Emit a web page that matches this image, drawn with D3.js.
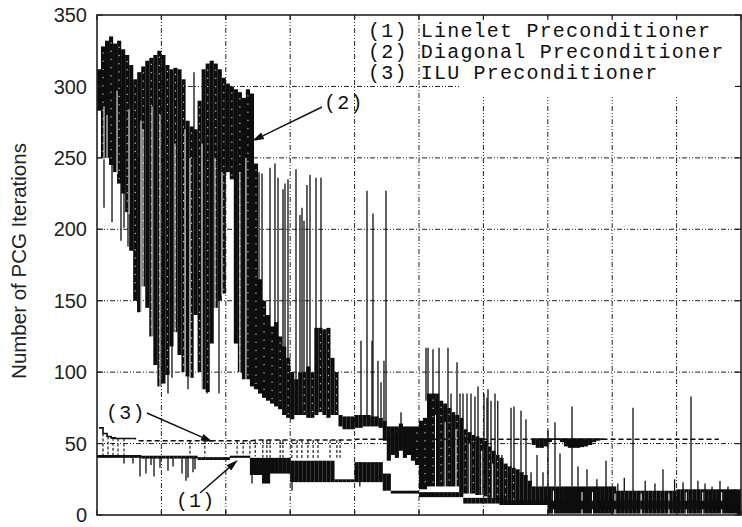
<!DOCTYPE html>
<html><head><meta charset="utf-8">
<script src="https://cdn.jsdelivr.net/npm/d3@7"></script>
<style>body{margin:0;background:#fff}svg{display:block}</style>
</head><body>
<svg id="c" width="742" height="527"></svg>
<script>
// ---------- data ----------
const yTicks = [0, 50, 100, 150, 200, 250, 300, 350];
const xTicks = [0, 16, 32, 48, 64, 80, 96, 112, 128, 144, 160];
const legendLabels = ["(1) Linelet Preconditioner", "(2) Diagonal Preconditioner", "(3) ILU Preconditioner"];
const yTitle = "Number of PCG Iterations";

// (2) Diagonal preconditioner: envelope per bin (160 bins)
const diagHi = [
312,328,332,335,330,332,326,322,315,305,
310,314,318,320,322,325,322,315,312,313,
312,305,276,272,270,290,312,316,318,316,
312,306,302,300,298,296,292,298,295,246,
165,150,140,132,135,125,118,110,100,95,
100,100,104,100,131,131,130,131,110,100,
70,69,69,69,70,70,70,70,69,69,
68,66,62,62,62,64,62,62,62,62,
66,68,85,85,85,80,78,75,72,70,
68,60,58,56,55,54,52,48,45,42,
40,36,34,33,32,30,28,24,20,20,
20,20,20,20,20,20,20,20,20,20,
20,20,20,20,20,20,20,20,20,17,
17,17,17,17,17,17,17,17,17,17,
17,17,17,17,18,18,18,18,18,18,
18,18,18,18,18,18,18,18,18,18];
const diagLo = [
283,250,250,245,240,232,225,212,185,150,
142,160,145,125,105,90,92,98,118,128,
112,100,97,96,140,100,88,86,120,145,
150,155,240,235,120,100,95,95,90,88,
85,82,80,78,76,74,70,68,67,70,
70,70,68,68,70,72,70,68,70,70,
62,60,60,60,61,61,62,62,62,62,
61,52,38,42,40,45,40,42,38,35,
18,18,20,20,20,20,20,20,20,20,
16,15,15,15,14,14,13,12,12,10,
7,7,7,7,7,7,7,7,7,7,
7,7,1,1,1,1,1,1,1,1,
1,1,1,1,1,1,1,1,1,1,
1,1,1,1,1,1,1,1,1,1,
1,1,1,1,1,1,1,1,1,1,
1,1,1,1,1,1,1,1,1,0];
// isolated excursions of series (2): position (bins), low, high
const diagSpikePos = [1.74,3.73,5.96,6.71,7.70,10.19,17.64,18.63,22.61,24.1,27.33,30.31,
 40.25,41.0,42.98,44.22,44.97,46.21,46.71,47.45,49.44,50.43,50.93,51.43,52.17,52.92,54.41,55.65,
 65.59,67.08,68.32,68.57,69.81,70.56,71.30,71.80,75.53,
 81.74,82.24,83.48,84.97,87.20,87.95,89.44,90.19,90.93,91.93,92.92,93.91,94.66,96.15,96.89,97.14,97.89,98.88,
 99.57,100.6,102.86,103.60,105.34,106.58,107.83,109.32,110.81,112.05,113.79,115.03,118.01,119.50,121.74,
 124.2,126.46,129.4,131.0,133.17,136.2,138.63,140.62,143.5,145.6,147.58,149.3,151.06,152.80,154.78,156.77,158.51];
const diagSpikeLo = [215,205,192,201,188,142,85,96,88,250,85,85,
 150,140,120,120,120,110,110,100,90,100,100,100,100,100,130,130,
 68,68,68,68,68,68,66,66,62,
 80,80,80,80,75,72,70,68,60,58,56,55,54,52,48,48,45,42,
 40,36,33,32,30,24,20,20,20,20,20,20,20,20,20,
 18,18,16,16,16,16,16,16,16,16,16,16,16,16,16,16,16];
const diagSpikeHi = [300,300,300,300,300,250,200,200,200,310,200,250,
 240,239,243,246,236,228,232,235,242,210,215,206,231,238,236,236,
 122,227,122,211,108,93,108,227,72,
 117,117,116,117,117,85,107,85,85,85,85,83,90,85,82,88,80,85,
 80,42,75,76,73,67,30,42,30,60,65,43,76,34,32,
 25,38,22,26,75,24,22,32,25,23,83,24,22,20,24,20,18];
// thin white gaps inside the dense bands of series (2): position (bins), top value
const diagGapPos = [1.74,2.49,4.97,7.95,10.93,11.43,13.67,15.65,19.38,21.86,23.11,26.09,29.32,31.06,35.5,37.0,
 84.1,86.5,89.2,92.5,95.6,98.3,113.4,120.5,123.1,128.7,135.2,142.1,146.4,150.5,155.2];
const diagGapTop = [286,280,297,284,276,270,286,280,260,270,250,260,250,240,240,250,
 70,65,60,50,45,36,17,16,16,15,15,15,16,16,16];

// (1) Linelet preconditioner: band per bin
const linHi = [
42,42,42,42,42,42,42,42,42,42,
42,41.5,41.5,41.5,41.5,41.5,41.5,41.5,41.5,41.5,
41.5,41.5,41.5,41.5,41.5,40.5,40.5,40.5,40.5,40.5,
40.5,40.5,40.5,41.5,41.5,41.5,41.5,41.5,40,40,
40,40,40,40,40,40,40,40,38,38,
38,38,38,38,38,38,38,38,38,25,
25,25,25,25,37,37,37,37,37,37,
37,29,29,17,17,17,17,17,17,17,
16,16,16,16,16,16,16,16,16,16,
16,12,12,12,12,12,12,12,12,12,
12,10,10,10,10,10,10,10,10,10,
10,10,10,10,10,10,10,10,10,10,
10,10,10,10,10,10,10,10,10,10,
10,10,10,10,10,10,10,10,10,10,
10,10,10,10,10,10,10,10,10,10,
10,10,10,10,10,10,10,10,10,10];
const linLo = [
40,40,40,40,40,40,40,40,40,40,
40,39.5,39.5,39.5,39.5,39.5,39.5,39.5,39.5,39.5,
39.5,39.5,39.5,39.5,39.5,38.5,38.5,38.5,38.5,38.5,
38.5,38.5,38.5,40,40,40,40,40,28,28,
28,22,22,29,29,29,29,29,23,23,
23,23,23,23,23,23,23,23,23,23,
23,23,23,23,23,23,23,23,23,23,
23,17,17,15,15,15,15,15,15,15,
12.5,12.5,12.5,12.5,12.5,12.5,12.5,12.5,12.5,12.5,
12.5,8,8,8,8,8,8,8,8,8,
8,7,7,7,7,7,7,7,7,7,
7,7,4,4,4,4,4,4,4,4,
4,4,4,4,4,4,4,4,4,4,
4,4,4,4,4,4,4,4,4,4,
4,4,4,4,4,4,4,4,4,4,
4,4,4,4,4,4,4,4,4,4];
const linSpikePos = [6.71,8.94,10.68,12.17,13.42,14.16,15.65,17.64,18.88,21.12,22.11,22.61,23.85,24.35,38.51,48.45,65.3];
const linSpikeLo  = [36,36,27,29,35,27,33,31,34,29,24,26,30,32,22,17,20];
const linSpikeHi  = [40,40,40,40,40,40,40,40,40,40,40,40,40,40,40,38,37];

// (3) ILU preconditioner: value per bin (bins 0..154)
const iluVals = [
61,57,55,54,53.5,53.5,53.5,53.5,53.5,53.5,
52,52,52,52,52,52,52,52,52,52,
52,52,52,52,52,52,52,52,52,52,
52,52,52,52,52,52,52,52,52,52.5,
52.5,52.5,52.5,52.5,52.5,52.5,52.5,52.5,52.5,52.5,
52.5,52.5,52.5,52.5,52.5,52.5,52.5,52.5,52.5,52.5,
52.5,52.5,52.5,52.5,53,53,53,53,53,53,
53,53,53,53,53,53,53,53,53,53,
53,53,53,53,53,53,53,53,53,53,
53,53,53,53,53,53,53,53,53,53,
53,53,53,53,53,53,53,53,53,53,
53,53,53,53,53,53,53,53,53,53,
53,53,53,53,53,53,53,53,53,53,
53,53,53,53,53,53,53,53,53,53,
53,53,53,53,53,53,53,53,53,53,
53,53,53,53,53];
// solid dip band of series (3)
const iluBandBins = [108,109,110,111,112,113,114,115,116,117,118,119,120,121,122,123,124,125];
const iluBandLo   = [49,47,47,48,51,52.5,52.5,51,48,47,47,47,47.5,48,49,51,52,52.5];
// short dashed drops of series (3)
const iluDipPos = [1.49,2.73,3.98,5.22,6.71,23.1,26.8,34.8,36.3,38.0,39.3,41.2,42.2,43.0,45.5,46.2,48.4,49.7,50.9,52.4,53.7,54.9,57.9,59.6,60.4];
const iluDipLo  = [41,41,41,41,41,41,41,41,41,41,41,40,40,40,40,40,39,39,39,39,39,39,40,40,40];

// annotations: label position and arrow (bins, values)
const noteLabels = ["(2)", "(3)", "(1)"];
const noteTextX = [56.4, 2.24, 19.6];
const noteTextY = [284.2, 67.2, 5.6];
const noteArrowFrom = [[55.9, 285.6], [12.4, 71.4], [25.6, 15.4]];
const noteArrowTo   = [[38.5, 261.8], [28.8, 51.1], [35.0, 38.5]];

// ---------- drawing ----------
const svg = d3.select("#c");
const L = 97, R = 741, T = 15, B = 515;
const x = d3.scaleLinear().domain([0, 160]).range([L, R]);
const y = d3.scaleLinear().domain([0, 350]).range([B, T]);
const ink = "#0d0d0d";
const gridDash = "5,2,1,2,1,2";

svg.append("rect").attr("width", 742).attr("height", 527).attr("fill", "#fff");
svg.append("defs").append("clipPath").attr("id", "pa")
  .append("rect").attr("x", L).attr("y", T).attr("width", R - L).attr("height", B - T);

// grid
const grid = svg.append("g").attr("stroke", "#222").attr("stroke-width", 1).attr("stroke-dasharray", gridDash);
grid.selectAll("line.h").data(yTicks.filter(v => v > 0 && v < 350)).join("line")
  .attr("x1", L).attr("x2", R).attr("y1", d => y(d)).attr("y2", d => y(d));
grid.selectAll("line.v").data(xTicks.filter(v => v > 0 && v < 160)).join("line")
  .attr("x1", d => x(d)).attr("x2", d => x(d)).attr("y1", T).attr("y2", B);
// key area (blank)
svg.append("rect").attr("x", 460).attr("y", T + 2).attr("width", R - 4 - 460).attr("height", 80).attr("fill", "#fff");

const plot = svg.append("g").attr("clip-path", "url(#pa)");
const bins = d3.range(160);
const bw = x(1) - x(0);

// series (2)
plot.append("g").attr("fill", ink).selectAll("rect").data(bins).join("rect")
  .attr("x", i => x(i) - 0.05).attr("width", bw + 0.1)
  .attr("y", i => y(diagHi[i])).attr("height", i => Math.max(1.2, y(diagLo[i]) - y(diagHi[i])));
plot.append("g").attr("stroke", ink).attr("stroke-width", 1.3).selectAll("line").data(diagSpikePos).join("line")
  .attr("x1", d => x(d)).attr("x2", d => x(d))
  .attr("y1", (d, k) => y(diagSpikeLo[k])).attr("y2", (d, k) => y(diagSpikeHi[k]));
// thin white gaps
plot.append("g").attr("stroke", "#fff").attr("stroke-width", 1).selectAll("line").data(diagGapPos).join("line")
  .attr("x1", d => x(d)).attr("x2", d => x(d))
  .attr("y1", (d, k) => y(diagGapTop[k])).attr("y2", d => y(diagLo[Math.floor(d)]) + 2);
// sparse dotted texture of the dashed line
plot.append("g").attr("stroke", "#fff").attr("stroke-width", 0.9).attr("stroke-dasharray", "1.2,7")
  .selectAll("line").data(bins.filter(i => i % 2 === 1 && diagHi[i] - diagLo[i] > 25)).join("line")
  .attr("x1", i => x(i + 0.5)).attr("x2", i => x(i + 0.5))
  .attr("y1", i => y(diagHi[i]) + 6).attr("y2", i => y(diagLo[i]) - 3);

// series (1)
plot.append("g").attr("fill", ink).selectAll("rect").data(bins).join("rect")
  .attr("x", i => x(i) - 0.05).attr("width", bw + 0.1)
  .attr("y", i => y(linHi[i])).attr("height", i => Math.max(1.5, y(linLo[i]) - y(linHi[i])));
plot.append("g").attr("stroke", ink).attr("stroke-width", 1.3).selectAll("line").data(linSpikePos).join("line")
  .attr("x1", d => x(d)).attr("x2", d => x(d))
  .attr("y1", (d, k) => y(linSpikeLo[k])).attr("y2", (d, k) => y(linSpikeHi[k]));

// series (3)
const iluLine = d3.line().x(d => x(d[0] + 0.5)).y(d => y(d[1])).curve(d3.curveStepAfter);
const iluPts = iluVals.map((v, i) => [i, v]);
plot.append("path").attr("d", iluLine(iluPts.slice(0, 9))).attr("fill", "none").attr("stroke", ink).attr("stroke-width", 1.6);
plot.append("path").attr("d", d3.line().x(d => x(d[0] + 0.5)).y(d => y(d[1]))(iluPts.slice(8)))
  .attr("fill", "none").attr("stroke", ink).attr("stroke-width", 1.5).attr("stroke-dasharray", "5,3");
plot.append("g").attr("stroke", ink).attr("stroke-width", 1.1).attr("stroke-dasharray", "3,2").selectAll("line").data(iluDipPos).join("line")
  .attr("x1", d => x(d)).attr("x2", d => x(d))
  .attr("y1", d => y(iluVals[Math.floor(d)])).attr("y2", (d, k) => y(iluDipLo[k]));
plot.append("g").attr("fill", ink).selectAll("rect").data(iluBandBins).join("rect")
  .attr("x", i => x(i)).attr("width", bw + 0.1)
  .attr("y", i => y(iluVals[i]) - 1).attr("height", (i, k) => y(iluBandLo[k]) - y(iluVals[i]) + 1);

// frame and ticks
svg.append("rect").attr("x", L).attr("y", T).attr("width", R - L).attr("height", B - T)
  .attr("fill", "none").attr("stroke", "#222").attr("stroke-width", 1.6);
const tk = svg.append("g").attr("stroke", "#222").attr("stroke-width", 1.2);
yTicks.forEach(v => {
  tk.append("line").attr("x1", L).attr("x2", L + 6).attr("y1", y(v)).attr("y2", y(v));
  tk.append("line").attr("x1", R - 6).attr("x2", R).attr("y1", y(v)).attr("y2", y(v));
});
xTicks.forEach(v => {
  tk.append("line").attr("x1", x(v)).attr("x2", x(v)).attr("y1", B).attr("y2", B - 5);
  tk.append("line").attr("x1", x(v)).attr("x2", x(v)).attr("y1", T).attr("y2", T + 5);
});

// y tick labels
svg.append("g").selectAll("text").data(yTicks).join("text")
  .attr("x", L - 10).attr("y", d => y(d)).attr("dy", "0.36em")
  .attr("text-anchor", "end").attr("font-family", "'Liberation Sans', Arial, sans-serif")
  .attr("font-size", 20).attr("fill", "#222").text(d => d);
// y title
svg.append("text").attr("transform", `translate(26,${(T + B) / 2 - 4}) rotate(-90)`)
  .attr("text-anchor", "middle").attr("font-family", "'Liberation Sans', Arial, sans-serif")
  .attr("font-size", 20.5).attr("fill", "#222").text(yTitle);

// key text
const mono = "'Liberation Mono', 'Courier New', monospace";
svg.append("g").selectAll("text").data(legendLabels).join("text")
  .attr("x", 368).attr("y", (d, i) => 37 + i * 21)
  .attr("font-family", mono).attr("font-size", 20).attr("letter-spacing", 1.2).attr("fill", "#111")
  .attr("xml:space", "preserve").text(d => d);

// annotations
const ann = svg.append("g");
noteLabels.forEach((lab, k) => {
  ann.append("text").attr("x", x(noteTextX[k])).attr("y", y(noteTextY[k]))
    .attr("font-family", mono).attr("font-size", 20).attr("letter-spacing", 1.2).attr("fill", "#111").text(lab);
  const x1 = x(noteArrowFrom[k][0]), y1 = y(noteArrowFrom[k][1]);
  const x2 = x(noteArrowTo[k][0]), y2 = y(noteArrowTo[k][1]);
  const a = Math.atan2(y2 - y1, x2 - x1), hl = 12, hw = 3.6;
  const bx = x2 - hl * Math.cos(a), by = y2 - hl * Math.sin(a);
  ann.append("line").attr("x1", x1).attr("y1", y1).attr("x2", bx).attr("y2", by)
    .attr("stroke", "#111").attr("stroke-width", 1.4);
  ann.append("path").attr("d", `M${x2},${y2}L${bx - hw * Math.sin(a)},${by + hw * Math.cos(a)}L${bx + hw * Math.sin(a)},${by - hw * Math.cos(a)}Z`)
    .attr("fill", "#111");
});
</script>
</body></html>
